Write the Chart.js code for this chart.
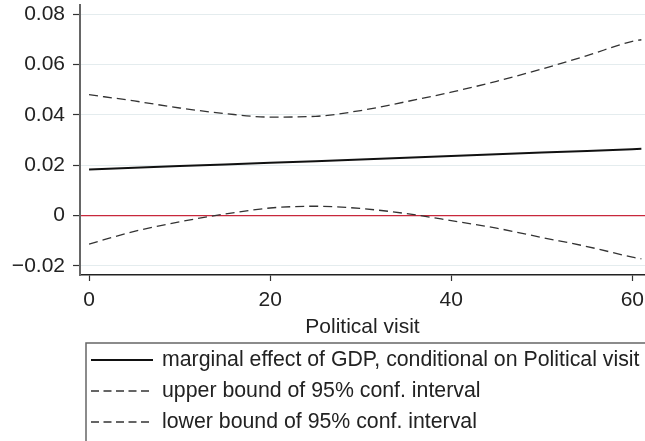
<!DOCTYPE html>
<html>
<head>
<meta charset="utf-8">
<script src="https://cdn.jsdelivr.net/npm/chart.js@4/dist/chart.umd.min.js"></script>
<style>
  html, body { margin: 0; padding: 0; background: #fff; }
  #wrap { width: 645px; height: 441px; }
</style>
</head>
<body>
<div id="wrap"><canvas id="myChart" width="645" height="441"></canvas></div>
<script>
// Datos
const visitas = [0, 5, 10, 15, 20, 25, 30, 35, 40, 45, 50, 55, 60, 61];
const efecto = [0.0183, 0.0190, 0.0197, 0.0203, 0.0210, 0.0216, 0.0223, 0.0230, 0.0236, 0.0243, 0.0250, 0.0256, 0.0263, 0.0265];
const superior = [0.0480, 0.0455, 0.0427, 0.0405, 0.0391, 0.0394, 0.0417, 0.0452, 0.0490, 0.0533, 0.0582, 0.0635, 0.0692, 0.0698];
const inferior = [-0.0113, -0.0063, -0.0025, 0.0006, 0.0030, 0.0037, 0.0028, 0.0008, -0.0020, -0.0050, -0.0087, -0.0123, -0.0165, -0.0172];

const xTicks = [0, 20, 40, 60];
const yTicks = [-0.02, 0, 0.02, 0.04, 0.06, 0.08];
const yLabels = ["\u22120.02", "0", "0.02", "0.04", "0.06", "0.08"];

const etiquetas = [
  "marginal effect of GDP, conditional on Political visit",
  "upper bound of 95% conf. interval",
  "lower bound of 95% conf. interval"
];

const fuente = "'Liberation Sans', Arial, Helvetica, sans-serif";

function pares(serie) {
  return visitas.map((v, i) => ({ x: v, y: serie[i] }));
}

const datasets = [
  {
    label: etiquetas[0],
    data: pares(efecto),
    borderColor: "#111",
    borderWidth: 2,
    pointRadius: 0,
    tension: 0
  },
  {
    label: etiquetas[1],
    data: pares(superior),
    borderColor: "#333",
    borderWidth: 1.3,
    borderDash: [9, 5],
    pointRadius: 0,
    cubicInterpolationMode: "monotone"
  },
  {
    label: etiquetas[2],
    data: pares(inferior),
    borderColor: "#333",
    borderWidth: 1.3,
    borderDash: [9, 5],
    pointRadius: 0,
    cubicInterpolationMode: "monotone"
  }
];

// Leyenda con recuadro, dibujada abajo
const leyenda = {
  id: "leyendaCaja",
  afterDraw(chart) {
    const ctx = chart.ctx;
    ctx.save();
    ctx.strokeStyle = "#666";
    ctx.lineWidth = 1.5;
    ctx.beginPath();
    ctx.moveTo(86, 450);
    ctx.lineTo(86, 343);
    ctx.lineTo(650, 343);
    ctx.stroke();
    ctx.font = "21.3px " + fuente;
    ctx.textBaseline = "middle";
    ctx.fillStyle = "#222";
    const filas = [360, 391, 422];
    chart.data.datasets.forEach((ds, i) => {
      const y = filas[i];
      ctx.strokeStyle = ds.borderColor;
      ctx.lineWidth = ds.borderWidth;
      ctx.setLineDash(ds.borderDash ? [8, 4.5] : []);
      ctx.beginPath();
      ctx.moveTo(91, y);
      ctx.lineTo(153, y);
      ctx.stroke();
      ctx.setLineDash([]);
      ctx.fillText(ds.label, 162, y);
    });
    ctx.restore();
  }
};

const config = {
  type: "line",
  data: { datasets },
  options: {
    responsive: false,
    animation: false,
    layout: { autoPadding: false, padding: { top: 5, right: 0, left: 0, bottom: 100 } },
    plugins: { legend: { display: false }, tooltip: { enabled: false } },
    scales: {
      x: {
        type: "linear",
        min: -1,
        max: 61.4,
        afterFit: (s) => { s.height = 66; s.paddingLeft = 0; s.paddingRight = 0; },
        afterBuildTicks: (s) => { s.ticks = xTicks.map(v => ({ value: v })); },
        grid: { drawOnChartArea: false, drawTicks: true, tickLength: 6, tickColor: "#333", tickWidth: 1.2 },
        border: { display: true, color: "#222", width: 1.5 },
        ticks: { color: "#222", font: { family: fuente, size: 21 }, padding: 7, maxRotation: 0 },
        title: { display: true, text: "Political visit", color: "#222", font: { family: fuente, size: 21 }, padding: { top: 0, bottom: 1 } }
      },
      y: {
        type: "linear",
        min: -0.0236,
        max: 0.0836,
        afterFit: (s) => { s.width = 80; s.paddingTop = 0; s.paddingBottom = 0; },
        afterBuildTicks: (s) => { s.ticks = yTicks.map(v => ({ value: v })); },
        grid: {
          color: (c) => (c.tick && c.tick.value === 0 ? "#c8283c" : "#e4ecee"),
          lineWidth: (c) => (c.tick && c.tick.value === 0 ? 1.2 : 1),
          drawTicks: true,
          tickLength: 7,
          tickColor: "#333",
          tickWidth: 1.2
        },
        border: { display: true, color: "#666", width: 2 },
        ticks: {
          color: "#222",
          font: { family: fuente, size: 21 },
          padding: 8,
          callback: (v) => {
            const i = yTicks.indexOf(v);
            return i >= 0 ? yLabels[i] : "";
          }
        }
      }
    }
  },
  plugins: [leyenda]
};

new Chart(document.getElementById("myChart"), config);
</script>
</body>
</html>
